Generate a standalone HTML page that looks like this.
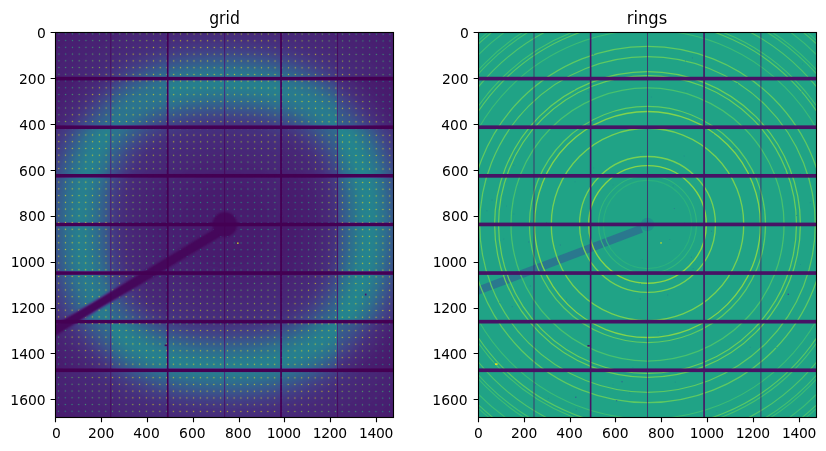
<!DOCTYPE html>
<html><head><meta charset="utf-8"><title>grid / rings</title>
<style>html,body{margin:0;padding:0;background:#fff}svg{display:block}text{font-family:"DejaVu Sans","Liberation Sans",sans-serif;fill:#000}</style>
</head><body>
<svg width="826" height="451" viewBox="0 0 826 451">
<defs>
<filter id="vir" filterUnits="userSpaceOnUse" x="0" y="0" width="826" height="451" color-interpolation-filters="sRGB">
<feComponentTransfer><feFuncR type="table" tableValues="0.2667 0.2728 0.2750 0.2784 0.2824 0.2824 0.2824 0.2824 0.2784 0.2745 0.2721 0.2659 0.2598 0.2537 0.2441 0.2397 0.2314 0.2230 0.2152 0.2091 0.1990 0.1929 0.1868 0.1806 0.1745 0.1684 0.1623 0.1561 0.1500 0.1439 0.1377 0.1316 0.1294 0.1233 0.1216 0.1189 0.1216 0.1248 0.1309 0.1444 0.1549 0.1733 0.1917 0.2186 0.2431 0.2716 0.3029 0.3319 0.3686 0.4015 0.4348 0.4723 0.5108 0.5510 0.5931 0.6336 0.6745 0.7118 0.7534 0.7980 0.8412 0.8819 0.9221 0.9571 0.9922"/><feFuncG type="table" tableValues="0.0039 0.0245 0.0456 0.0708 0.0931 0.1115 0.1338 0.1559 0.1725 0.1892 0.2113 0.2304 0.2490 0.2691 0.2848 0.3032 0.3216 0.3382 0.3544 0.3701 0.3863 0.4017 0.4186 0.4346 0.4471 0.4596 0.4755 0.4924 0.5078 0.5201 0.5358 0.5502 0.5686 0.5792 0.5936 0.6093 0.6255 0.6377 0.6539 0.6699 0.6824 0.6949 0.7108 0.7238 0.7363 0.7515 0.7637 0.7760 0.7882 0.8005 0.8088 0.8184 0.8294 0.8385 0.8485 0.8547 0.8627 0.8708 0.8745 0.8831 0.8863 0.8914 0.8975 0.8998 0.9059"/><feFuncB type="table" tableValues="0.3294 0.3522 0.3711 0.3936 0.4147 0.4331 0.4539 0.4699 0.4824 0.4946 0.5044 0.5152 0.5245 0.5306 0.5368 0.5412 0.5451 0.5490 0.5495 0.5529 0.5539 0.5569 0.5569 0.5569 0.5569 0.5569 0.5569 0.5569 0.5569 0.5569 0.5569 0.5529 0.5490 0.5468 0.5446 0.5385 0.5333 0.5270 0.5201 0.5103 0.5020 0.4936 0.4814 0.4684 0.4529 0.4368 0.4211 0.4049 0.3843 0.3637 0.3431 0.3213 0.2980 0.2735 0.2451 0.2169 0.1941 0.1674 0.1417 0.1186 0.1000 0.0953 0.1049 0.1206 0.1451"/></feComponentTransfer>
</filter>
<filter id="vird" filterUnits="userSpaceOnUse" x="0" y="0" width="826" height="451" color-interpolation-filters="sRGB">
<feComponentTransfer><feFuncR type="linear" slope="7.4"/><feFuncG type="linear" slope="7.4"/><feFuncB type="linear" slope="7.4"/></feComponentTransfer>
<feComponentTransfer><feFuncR type="table" tableValues="0.2667 0.2728 0.2750 0.2784 0.2824 0.2824 0.2824 0.2824 0.2784 0.2745 0.2721 0.2659 0.2598 0.2537 0.2441 0.2397 0.2314 0.2230 0.2152 0.2091 0.1990 0.1929 0.1868 0.1806 0.1745 0.1684 0.1623 0.1561 0.1500 0.1439 0.1377 0.1316 0.1294 0.1233 0.1216 0.1189 0.1216 0.1248 0.1309 0.1444 0.1549 0.1733 0.1917 0.2186 0.2431 0.2716 0.3029 0.3319 0.3686 0.4015 0.4348 0.4723 0.5108 0.5510 0.5931 0.6336 0.6745 0.7118 0.7534 0.7980 0.8412 0.8819 0.9221 0.9255 0.9255"/><feFuncG type="table" tableValues="0.0039 0.0245 0.0456 0.0708 0.0931 0.1115 0.1338 0.1559 0.1725 0.1892 0.2113 0.2304 0.2490 0.2691 0.2848 0.3032 0.3216 0.3382 0.3544 0.3701 0.3863 0.4017 0.4186 0.4346 0.4471 0.4596 0.4755 0.4924 0.5078 0.5201 0.5358 0.5502 0.5686 0.5792 0.5936 0.6093 0.6255 0.6377 0.6539 0.6699 0.6824 0.6949 0.7108 0.7238 0.7363 0.7515 0.7637 0.7760 0.7882 0.8005 0.8088 0.8184 0.8294 0.8385 0.8485 0.8547 0.8627 0.8708 0.8745 0.8831 0.8863 0.8914 0.8975 0.8980 0.8980"/><feFuncB type="table" tableValues="0.3294 0.3522 0.3711 0.3936 0.4147 0.4331 0.4539 0.4699 0.4824 0.4946 0.5044 0.5152 0.5245 0.5306 0.5368 0.5412 0.5451 0.5490 0.5495 0.5529 0.5539 0.5569 0.5569 0.5569 0.5569 0.5569 0.5569 0.5569 0.5569 0.5569 0.5569 0.5529 0.5490 0.5468 0.5446 0.5385 0.5333 0.5270 0.5201 0.5103 0.5020 0.4936 0.4814 0.4684 0.4529 0.4368 0.4211 0.4049 0.3843 0.3637 0.3431 0.3213 0.2980 0.2735 0.2451 0.2169 0.1941 0.1674 0.1417 0.1186 0.1000 0.0953 0.1049 0.1059 0.1059"/></feComponentTransfer>
</filter>
<filter id="b1" filterUnits="userSpaceOnUse" x="-600" y="-600" width="2675" height="2879" color-interpolation-filters="sRGB"><feGaussianBlur stdDeviation="66"/></filter>
<filter id="b2" filterUnits="userSpaceOnUse" x="-600" y="-600" width="2675" height="2879" color-interpolation-filters="sRGB"><feGaussianBlur stdDeviation="170"/></filter>
<filter id="b3" filterUnits="userSpaceOnUse" x="-600" y="-600" width="2675" height="2879" color-interpolation-filters="sRGB"><feGaussianBlur stdDeviation="5"/></filter>
<filter id="b4" filterUnits="userSpaceOnUse" x="-600" y="-600" width="2675" height="2879" color-interpolation-filters="sRGB"><feGaussianBlur stdDeviation="3"/></filter>
<g id="fieldL" transform="translate(55.0897 32.4447) scale(0.229303)">
<rect x="-5" y="-5" width="1485" height="1689" fill="#1e1e1e"/>
<path d="M1368.0 841.5L1367.3 894.5L1365.1 935.8L1361.6 973.4L1356.5 1008.7L1350.1 1042.2L1342.3 1074.1L1333.0 1104.7L1322.4 1134.0L1310.4 1162.1L1297.1 1188.9L1282.4 1214.6L1266.3 1239.0L1249.0 1262.3L1230.4 1284.4L1210.5 1305.2L1189.3 1324.8L1166.9 1343.2L1143.3 1360.3L1118.5 1376.1L1092.5 1390.6L1065.2 1403.7L1036.7 1415.6L1007.0 1426.0L976.0 1435.1L943.6 1442.9L909.6 1449.2L873.8 1454.1L835.6 1457.7L793.7 1459.8L740.0 1460.5L686.3 1459.8L644.4 1457.7L606.2 1454.1L570.4 1449.2L536.4 1442.9L504.0 1435.1L473.0 1426.0L443.3 1415.6L414.8 1403.7L387.5 1390.6L361.5 1376.1L336.7 1360.3L313.1 1343.2L290.7 1324.8L269.5 1305.2L249.6 1284.4L231.0 1262.3L213.7 1239.0L197.6 1214.6L182.9 1188.9L169.6 1162.1L157.6 1134.0L147.0 1104.7L137.7 1074.1L129.9 1042.2L123.5 1008.7L118.4 973.4L114.9 935.8L112.7 894.5L112.0 841.5L112.7 788.5L114.9 747.2L118.4 709.6L123.5 674.3L129.9 640.8L137.7 608.9L147.0 578.3L157.6 549.0L169.6 520.9L182.9 494.1L197.6 468.4L213.7 444.0L231.0 420.7L249.6 398.6L269.5 377.8L290.7 358.2L313.1 339.8L336.7 322.7L361.5 306.9L387.5 292.4L414.8 279.3L443.3 267.4L473.0 257.0L504.0 247.9L536.4 240.1L570.4 233.8L606.2 228.9L644.4 225.3L686.3 223.2L740.0 222.5L793.7 223.2L835.6 225.3L873.8 228.9L909.6 233.8L943.6 240.1L976.0 247.9L1007.0 257.0L1036.7 267.4L1065.2 279.3L1092.5 292.4L1118.5 306.9L1143.3 322.7L1166.9 339.8L1189.3 358.2L1210.5 377.8L1230.4 398.6L1249.0 420.7L1266.3 444.0L1282.4 468.4L1297.1 494.1L1310.4 520.9L1322.4 549.0L1333.0 578.3L1342.3 608.9L1350.1 640.8L1356.5 674.3L1361.6 709.6L1365.1 747.2L1367.3 788.5Z" fill="none" stroke="#fff" stroke-opacity="0.212" stroke-width="340" filter="url(#b2)"/>
<path d="M1368.0 841.5L1367.3 894.5L1365.1 935.8L1361.6 973.4L1356.5 1008.7L1350.1 1042.2L1342.3 1074.1L1333.0 1104.7L1322.4 1134.0L1310.4 1162.1L1297.1 1188.9L1282.4 1214.6L1266.3 1239.0L1249.0 1262.3L1230.4 1284.4L1210.5 1305.2L1189.3 1324.8L1166.9 1343.2L1143.3 1360.3L1118.5 1376.1L1092.5 1390.6L1065.2 1403.7L1036.7 1415.6L1007.0 1426.0L976.0 1435.1L943.6 1442.9L909.6 1449.2L873.8 1454.1L835.6 1457.7L793.7 1459.8L740.0 1460.5L686.3 1459.8L644.4 1457.7L606.2 1454.1L570.4 1449.2L536.4 1442.9L504.0 1435.1L473.0 1426.0L443.3 1415.6L414.8 1403.7L387.5 1390.6L361.5 1376.1L336.7 1360.3L313.1 1343.2L290.7 1324.8L269.5 1305.2L249.6 1284.4L231.0 1262.3L213.7 1239.0L197.6 1214.6L182.9 1188.9L169.6 1162.1L157.6 1134.0L147.0 1104.7L137.7 1074.1L129.9 1042.2L123.5 1008.7L118.4 973.4L114.9 935.8L112.7 894.5L112.0 841.5L112.7 788.5L114.9 747.2L118.4 709.6L123.5 674.3L129.9 640.8L137.7 608.9L147.0 578.3L157.6 549.0L169.6 520.9L182.9 494.1L197.6 468.4L213.7 444.0L231.0 420.7L249.6 398.6L269.5 377.8L290.7 358.2L313.1 339.8L336.7 322.7L361.5 306.9L387.5 292.4L414.8 279.3L443.3 267.4L473.0 257.0L504.0 247.9L536.4 240.1L570.4 233.8L606.2 228.9L644.4 225.3L686.3 223.2L740.0 222.5L793.7 223.2L835.6 225.3L873.8 228.9L909.6 233.8L943.6 240.1L976.0 247.9L1007.0 257.0L1036.7 267.4L1065.2 279.3L1092.5 292.4L1118.5 306.9L1143.3 322.7L1166.9 339.8L1189.3 358.2L1210.5 377.8L1230.4 398.6L1249.0 420.7L1266.3 444.0L1282.4 468.4L1297.1 494.1L1310.4 520.9L1322.4 549.0L1333.0 578.3L1342.3 608.9L1350.1 640.8L1356.5 674.3L1361.6 709.6L1365.1 747.2L1367.3 788.5Z" fill="none" stroke="#bfbfbf" stroke-width="160.0" filter="url(#b1)"/>
<rect x="-5" y="-5" width="250.0" height="206.3" fill="#000" fill-opacity="0.333"/>
<rect x="245.0" y="-5" width="247.0" height="206.3" fill="#000" fill-opacity="0.333"/>
<rect x="492.0" y="-5" width="248.0" height="206.3" fill="#000" fill-opacity="0.333"/>
<rect x="740.0" y="-5" width="246.70000000000005" height="206.3" fill="#000" fill-opacity="0.333"/>
<rect x="986.7" y="-5" width="247.79999999999995" height="206.3" fill="#000" fill-opacity="0.333"/>
<rect x="1234.5" y="-5" width="245.5" height="206.3" fill="#000" fill-opacity="0.333"/>
<rect x="-5" y="201.3" width="250.0" height="212.0" fill="#000" fill-opacity="0.480"/>
<rect x="245.0" y="201.3" width="247.0" height="212.0" fill="#000" fill-opacity="0.400"/>
<rect x="492.0" y="201.3" width="248.0" height="212.0" fill="#000" fill-opacity="0.333"/>
<rect x="740.0" y="201.3" width="246.70000000000005" height="212.0" fill="#000" fill-opacity="0.333"/>
<rect x="986.7" y="201.3" width="247.79999999999995" height="212.0" fill="#000" fill-opacity="0.360"/>
<rect x="1234.5" y="201.3" width="245.5" height="212.0" fill="#000" fill-opacity="0.533"/>
<rect x="-5" y="413.3" width="250.0" height="211.99999999999994" fill="#000" fill-opacity="0.333"/>
<rect x="245.0" y="413.3" width="247.0" height="211.99999999999994" fill="#000" fill-opacity="0.387"/>
<rect x="492.0" y="413.3" width="248.0" height="211.99999999999994" fill="#000" fill-opacity="0.333"/>
<rect x="740.0" y="413.3" width="246.70000000000005" height="211.99999999999994" fill="#000" fill-opacity="0.333"/>
<rect x="986.7" y="413.3" width="247.79999999999995" height="211.99999999999994" fill="#000" fill-opacity="0.467"/>
<rect x="1234.5" y="413.3" width="245.5" height="211.99999999999994" fill="#000" fill-opacity="0.300"/>
<rect x="-5" y="625.3" width="250.0" height="212.0" fill="#000" fill-opacity="0.333"/>
<rect x="245.0" y="625.3" width="247.0" height="212.0" fill="#000" fill-opacity="0.433"/>
<rect x="492.0" y="625.3" width="248.0" height="212.0" fill="#000" fill-opacity="0.333"/>
<rect x="740.0" y="625.3" width="246.70000000000005" height="212.0" fill="#000" fill-opacity="0.333"/>
<rect x="986.7" y="625.3" width="247.79999999999995" height="212.0" fill="#000" fill-opacity="0.513"/>
<rect x="1234.5" y="625.3" width="245.5" height="212.0" fill="#000" fill-opacity="0.300"/>
<rect x="-5" y="837.3" width="250.0" height="212.0" fill="#000" fill-opacity="0.333"/>
<rect x="245.0" y="837.3" width="247.0" height="212.0" fill="#000" fill-opacity="0.433"/>
<rect x="492.0" y="837.3" width="248.0" height="212.0" fill="#000" fill-opacity="0.333"/>
<rect x="740.0" y="837.3" width="246.70000000000005" height="212.0" fill="#000" fill-opacity="0.333"/>
<rect x="986.7" y="837.3" width="247.79999999999995" height="212.0" fill="#000" fill-opacity="0.500"/>
<rect x="1234.5" y="837.3" width="245.5" height="212.0" fill="#000" fill-opacity="0.300"/>
<rect x="-5" y="1049.3" width="250.0" height="212.0" fill="#000" fill-opacity="0.367"/>
<rect x="245.0" y="1049.3" width="247.0" height="212.0" fill="#000" fill-opacity="0.453"/>
<rect x="492.0" y="1049.3" width="248.0" height="212.0" fill="#000" fill-opacity="0.333"/>
<rect x="740.0" y="1049.3" width="246.70000000000005" height="212.0" fill="#000" fill-opacity="0.333"/>
<rect x="986.7" y="1049.3" width="247.79999999999995" height="212.0" fill="#000" fill-opacity="0.433"/>
<rect x="1234.5" y="1049.3" width="245.5" height="212.0" fill="#000" fill-opacity="0.300"/>
<rect x="-5" y="1261.3" width="250.0" height="212.0" fill="#000" fill-opacity="0.467"/>
<rect x="245.0" y="1261.3" width="247.0" height="212.0" fill="#000" fill-opacity="0.333"/>
<rect x="492.0" y="1261.3" width="248.0" height="212.0" fill="#000" fill-opacity="0.333"/>
<rect x="740.0" y="1261.3" width="246.70000000000005" height="212.0" fill="#000" fill-opacity="0.333"/>
<rect x="986.7" y="1261.3" width="247.79999999999995" height="212.0" fill="#000" fill-opacity="0.333"/>
<rect x="1234.5" y="1261.3" width="245.5" height="212.0" fill="#000" fill-opacity="0.533"/>
<rect x="-5" y="1473.3" width="250.0" height="210.70000000000005" fill="#000" fill-opacity="0.333"/>
<rect x="245.0" y="1473.3" width="247.0" height="210.70000000000005" fill="#000" fill-opacity="0.333"/>
<rect x="492.0" y="1473.3" width="248.0" height="210.70000000000005" fill="#000" fill-opacity="0.333"/>
<rect x="740.0" y="1473.3" width="246.70000000000005" height="210.70000000000005" fill="#000" fill-opacity="0.333"/>
<rect x="986.7" y="1473.3" width="247.79999999999995" height="210.70000000000005" fill="#000" fill-opacity="0.333"/>
<rect x="1234.5" y="1473.3" width="245.5" height="210.70000000000005" fill="#000" fill-opacity="0.333"/>
<g filter="url(#b3)"><line x1="740.0" y1="854.5" x2="-80" y2="1345.9" stroke="#050505" stroke-width="42.0"/>
<circle cx="740.0" cy="837.5" r="54.0" fill="#050505"/></g>
<rect x="-5" y="193.3" width="1485" height="16.0" fill="#000"/>
<rect x="-5" y="405.3" width="1485" height="16.0" fill="#000"/>
<rect x="-5" y="617.3" width="1485" height="16.0" fill="#000"/>
<rect x="-5" y="829.3" width="1485" height="16.0" fill="#000"/>
<rect x="-5" y="1041.3" width="1485" height="16.0" fill="#000"/>
<rect x="-5" y="1253.3" width="1485" height="16.0" fill="#000"/>
<rect x="-5" y="1465.3" width="1485" height="16.0" fill="#000"/>
<rect x="487.2" y="-5" width="8.0" height="1689" fill="#000"/>
<rect x="981.4" y="-5" width="8.0" height="1689" fill="#000"/>
<rect x="241.0" y="-5" width="4" height="1689" fill="#000" fill-opacity="0.8"/>
<rect x="737.5" y="-5" width="4" height="1689" fill="#000" fill-opacity="0.8"/>
<rect x="1230.0" y="-5" width="4" height="1689" fill="#000" fill-opacity="0.8"/>
</g>
<pattern id="dp" patternUnits="userSpaceOnUse" x="55.573" y="30.481" width="6.754" height="6.739" patternTransform="rotate(0.066 58.95 33.85)">
<rect x="2.777" y="2.769" width="1.2" height="1.2" fill="#fff" fill-opacity="0.72"/>
</pattern>
<mask id="dm" maskUnits="userSpaceOnUse" x="0" y="0" width="826" height="451"><rect x="50" y="28" width="350" height="395" fill="url(#dp)"/>
<g transform="translate(55.0897 32.4447) scale(0.229303)"><line x1="740.0" y1="854.5" x2="-80" y2="1345.9" stroke="#000" stroke-width="38.0"/><circle cx="740.0" cy="837.5" r="52.0" fill="#000"/></g>
</mask>
<clipPath id="c0"><rect x="55.0" y="32.0" width="338.5" height="385.5"/></clipPath>
<clipPath id="c1"><rect x="478.0" y="32.0" width="338.5" height="385.5"/></clipPath>
</defs>
<rect width="826" height="451" fill="#fff"/>
<g clip-path="url(#c0)">
<use href="#fieldL" filter="url(#vir)"/>
<g mask="url(#dm)"><use href="#fieldL" filter="url(#vird)"/></g>
<g transform="translate(55.0897 32.4447) scale(0.229303)">
<rect x="794" y="916" width="6" height="6" fill="#dfe318"/>
<rect x="1351" y="1139" width="7" height="8" fill="#471063"/>
<rect x="478" y="1361" width="10" height="7" fill="#46085c"/>
</g></g>
<g clip-path="url(#c1)">
<g transform="translate(477.8147 32.4447) scale(0.229303)">
<rect x="-5" y="-5" width="1485" height="1689" fill="#20a386"/>
<g filter="url(#b4)"><line x1="714.0" y1="856.0" x2="-80" y2="1156.4" stroke="#2a788e" stroke-width="35"/>
<circle cx="740.0" cy="837.5" r="29" fill="#21918c"/><circle cx="740.0" cy="837.5" r="17" fill="#23898e"/></g>
<circle cx="740.0" cy="837.5" r="192.3" fill="none" stroke="#2ab07e" stroke-width="4.8"/>
<circle cx="740.0" cy="837.5" r="213.7" fill="none" stroke="#32b67a" stroke-width="4.8"/>
<circle cx="740.0" cy="837.5" r="256.5" fill="none" stroke="#86d549" stroke-width="6.1"/>
<circle cx="740.0" cy="837.5" r="296.3" fill="none" stroke="#75d054" stroke-width="5.9"/>
<circle cx="740.0" cy="837.5" r="419.7" fill="none" stroke="#75d054" stroke-width="5.9"/>
<circle cx="740.0" cy="837.5" r="492.7" fill="none" stroke="#81d34d" stroke-width="5.9"/>
<circle cx="740.0" cy="837.5" r="514.8" fill="none" stroke="#5ec962" stroke-width="5.5"/>
<circle cx="740.0" cy="837.5" r="595.4" fill="none" stroke="#48c16e" stroke-width="5.5"/>
<circle cx="740.0" cy="837.5" r="649.7" fill="none" stroke="#69cd5b" stroke-width="5.5"/>
<circle cx="740.0" cy="837.5" r="666.8" fill="none" stroke="#69cd5b" stroke-width="5.5"/>
<circle cx="740.0" cy="837.5" r="731.7" fill="none" stroke="#5ec962" stroke-width="5.5"/>
<circle cx="740.0" cy="837.5" r="777.0" fill="none" stroke="#5ec962" stroke-width="5.5"/>
<circle cx="740.0" cy="837.5" r="847.6" fill="none" stroke="#3bbb75" stroke-width="5.0"/>
<circle cx="740.0" cy="837.5" r="887.6" fill="none" stroke="#58c765" stroke-width="5.2"/>
<circle cx="740.0" cy="837.5" r="900.5" fill="none" stroke="#44bf70" stroke-width="5.0"/>
<circle cx="740.0" cy="837.5" r="950.8" fill="none" stroke="#4ec36b" stroke-width="5.2"/>
<circle cx="740.0" cy="837.5" r="987.1" fill="none" stroke="#44bf70" stroke-width="5.0"/>
<circle cx="740.0" cy="837.5" r="998.9" fill="none" stroke="#3bbb75" stroke-width="4.8"/>
<circle cx="740.0" cy="837.5" r="1045.1" fill="none" stroke="#3bbb75" stroke-width="4.8"/>
<circle cx="740.0" cy="837.5" r="1078.6" fill="none" stroke="#48c16e" stroke-width="4.8"/>
<circle cx="740.0" cy="837.5" r="1089.5" fill="none" stroke="#37b878" stroke-width="4.8"/>
<circle cx="740.0" cy="837.5" r="1132.6" fill="none" stroke="#3bbb75" stroke-width="4.8"/>
<circle cx="740.0" cy="837.5" r="1164.0" fill="none" stroke="#3fbc73" stroke-width="4.8"/>
<rect x="479" y="257" width="4" height="4" fill="#287d8e"/>
<rect x="111" y="899" width="4" height="4" fill="#21918c"/>
<rect x="859" y="1523" width="4" height="4" fill="#228b8d"/>
<rect x="60" y="729" width="4" height="4" fill="#287d8e"/>
<rect x="358" y="925" width="4" height="4" fill="#287d8e"/>
<rect x="1216" y="212" width="4" height="4" fill="#228b8d"/>
<rect x="929" y="978" width="4" height="4" fill="#287d8e"/>
<rect x="850" y="667" width="4" height="4" fill="#228b8d"/>
<rect x="73" y="1438" width="4" height="4" fill="#21918c"/>
<rect x="619" y="907" width="4" height="4" fill="#21918c"/>
<rect x="826" y="1143" width="4" height="4" fill="#287d8e"/>
<rect x="857" y="1071" width="4" height="4" fill="#21918c"/>
<rect x="148" y="1194" width="4" height="4" fill="#287d8e"/>
<rect x="912" y="834" width="4" height="4" fill="#1f958b"/>
<rect x="1144" y="782" width="4" height="4" fill="#1f958b"/>
<rect x="535" y="420" width="4" height="4" fill="#228b8d"/>
<rect x="1029" y="412" width="4" height="4" fill="#21918c"/>
<rect x="774" y="1466" width="4" height="4" fill="#1f958b"/>
<rect x="427" y="1641" width="4" height="4" fill="#287d8e"/>
<rect x="755" y="280" width="4" height="4" fill="#21918c"/>
<rect x="228" y="821" width="4" height="4" fill="#287d8e"/>
<rect x="1414" y="135" width="4" height="4" fill="#21918c"/>
<rect x="503" y="589" width="4" height="4" fill="#1f958b"/>
<rect x="855" y="766" width="4" height="4" fill="#287d8e"/>
<rect x="1389" y="796" width="4" height="4" fill="#287d8e"/>
<rect x="94" y="1176" width="4" height="4" fill="#1f958b"/>
<rect x="422" y="649" width="4" height="4" fill="#21918c"/>
<rect x="38" y="776" width="4" height="4" fill="#228b8d"/>
<rect x="900" y="829" width="4" height="4" fill="#228b8d"/>
<rect x="1130" y="221" width="4" height="4" fill="#228b8d"/>
<rect x="588" y="1535" width="4" height="4" fill="#1f958b"/>
<rect x="123" y="755" width="4" height="4" fill="#21918c"/>
<rect x="1299" y="1372" width="4" height="4" fill="#21918c"/>
<rect x="1040" y="1651" width="4" height="4" fill="#1f958b"/>
<rect x="1408" y="257" width="4" height="4" fill="#228b8d"/>
<rect x="227" y="1104" width="4" height="4" fill="#287d8e"/>
<rect x="715" y="988" width="4" height="4" fill="#21918c"/>
<rect x="418" y="248" width="4" height="4" fill="#21918c"/>
<rect x="898" y="537" width="4" height="4" fill="#228b8d"/>
<rect x="1017" y="865" width="4" height="4" fill="#287d8e"/>
<rect x="674" y="1459" width="4" height="4" fill="#1f958b"/>
<rect x="588" y="663" width="4" height="4" fill="#1f958b"/>
<rect x="934" y="109" width="4" height="4" fill="#287d8e"/>
<rect x="1448" y="740" width="4" height="4" fill="#287d8e"/>
<rect x="503" y="93" width="4" height="4" fill="#287d8e"/>
<rect x="835" y="901" width="4" height="4" fill="#21918c"/>
<rect x="904" y="122" width="4" height="4" fill="#228b8d"/>
<rect x="905" y="253" width="4" height="4" fill="#21918c"/>
<rect x="1405" y="1010" width="4" height="4" fill="#1f958b"/>
<rect x="185" y="1422" width="4" height="4" fill="#1f958b"/>
<rect x="709" y="525" width="4" height="4" fill="#228b8d"/>
<rect x="155" y="577" width="4" height="4" fill="#21918c"/>
<rect x="706" y="1160" width="4" height="4" fill="#287d8e"/>
<rect x="306" y="1594" width="4" height="4" fill="#21918c"/>
<rect x="220" y="912" width="4" height="4" fill="#287d8e"/>
<rect x="1116" y="503" width="4" height="4" fill="#287d8e"/>
<rect x="1025" y="441" width="4" height="4" fill="#21918c"/>
<rect x="1336" y="599" width="4" height="4" fill="#228b8d"/>
<rect x="785" y="1305" width="4" height="4" fill="#21918c"/>
<rect x="937" y="1028" width="4" height="4" fill="#228b8d"/>
<rect x="1186" y="1371" width="4" height="4" fill="#228b8d"/>
<rect x="298" y="827" width="4" height="4" fill="#287d8e"/>
<rect x="1455" y="1324" width="4" height="4" fill="#1f958b"/>
<rect x="385" y="1161" width="4" height="4" fill="#21918c"/>
<rect x="660" y="1569" width="4" height="4" fill="#21918c"/>
<rect x="1404" y="614" width="4" height="4" fill="#228b8d"/>
<rect x="155" y="790" width="4" height="4" fill="#21918c"/>
<rect x="304" y="1047" width="4" height="4" fill="#287d8e"/>
<rect x="707" y="1095" width="4" height="4" fill="#287d8e"/>
<rect x="1228" y="205" width="4" height="4" fill="#1f958b"/>
<rect x="-5" y="193.3" width="1485" height="16.0" fill="#471365"/>
<rect x="-5" y="405.3" width="1485" height="16.0" fill="#471365"/>
<rect x="-5" y="617.3" width="1485" height="16.0" fill="#471365"/>
<rect x="-5" y="829.3" width="1485" height="16.0" fill="#471365"/>
<rect x="-5" y="1041.3" width="1485" height="16.0" fill="#471365"/>
<rect x="-5" y="1253.3" width="1485" height="16.0" fill="#471365"/>
<rect x="-5" y="1465.3" width="1485" height="16.0" fill="#471365"/>
<rect x="488.5" y="-5" width="7.0" height="1689" fill="#471365"/>
<rect x="983.2" y="-5" width="7.0" height="1689" fill="#471365"/>
<rect x="242.8" y="-5" width="4.4" height="1689" fill="#471365" fill-opacity="0.7"/>
<rect x="737.8" y="-5" width="4.4" height="1689" fill="#471365" fill-opacity="0.7"/>
<rect x="1232.3" y="-5" width="4.4" height="1689" fill="#471365" fill-opacity="0.7"/>
<rect x="424" y="1588" width="6" height="6" fill="#2f6c8e"/>
<rect x="626" y="1520" width="6" height="6" fill="#2c738e"/>
<rect x="245" y="1533" width="6" height="6" fill="#355f8d"/>
<rect x="602" y="1603" width="6" height="6" fill="#287d8e"/>
<rect x="1351" y="1139" width="6" height="6" fill="#3b528b"/>
<rect x="478" y="1363" width="10" height="7" fill="#471365"/>
<rect x="796" y="915" width="6" height="6" fill="#d2e21b"/>
<rect x="75" y="1443" width="11" height="7" fill="#ece51b"/>
</g></g>
<path d="M55.5 417.5v4.86M101.5 417.5v4.86M147.5 417.5v4.86M193.5 417.5v4.86M239.5 417.5v4.86M284.5 417.5v4.86M330.5 417.5v4.86M376.5 417.5v4.86M55.5 32.5h-4.86M55.5 78.5h-4.86M55.5 124.5h-4.86M55.5 170.5h-4.86M55.5 216.5h-4.86M55.5 262.5h-4.86M55.5 308.5h-4.86M55.5 353.5h-4.86M55.5 399.5h-4.86" stroke="#000" stroke-width="1.11" fill="none"/>
<rect x="55.5" y="32.5" width="338.0" height="385.0" fill="none" stroke="#000" stroke-width="1.11" stroke-linejoin="miter"/>
<text x="56.35" y="437.77" font-size="13.889" text-anchor="middle">0</text>
<text x="101.21" y="437.77" font-size="13.889" text-anchor="middle">200</text>
<text x="146.50" y="437.77" font-size="13.889" text-anchor="middle">400</text>
<text x="192.36" y="437.77" font-size="13.889" text-anchor="middle">600</text>
<text x="238.30" y="437.77" font-size="13.889" text-anchor="middle">800</text>
<text x="283.77" y="437.77" font-size="13.889" text-anchor="middle" letter-spacing="-0.33">1000</text>
<text x="329.74" y="437.77" font-size="13.889" text-anchor="middle" letter-spacing="-0.33">1200</text>
<text x="375.92" y="437.77" font-size="13.889" text-anchor="middle" letter-spacing="-0.33">1400</text>
<text x="45.88" y="37.55" font-size="13.889" text-anchor="end">0</text>
<text x="45.49" y="83.55" font-size="13.889" text-anchor="end">200</text>
<text x="45.78" y="129.55" font-size="13.889" text-anchor="end">400</text>
<text x="45.56" y="175.55" font-size="13.889" text-anchor="end">600</text>
<text x="45.58" y="220.55" font-size="13.889" text-anchor="end">800</text>
<text x="44.84" y="266.55" font-size="13.889" text-anchor="end" letter-spacing="-0.33">1000</text>
<text x="44.75" y="312.55" font-size="13.889" text-anchor="end" letter-spacing="-0.33">1200</text>
<text x="44.79" y="358.55" font-size="13.889" text-anchor="end" letter-spacing="-0.33">1400</text>
<text x="45.68" y="404.55" font-size="13.889" text-anchor="end">1600</text>
<text transform="translate(224.5 23.5) scale(0.94 1.1)" font-size="16.667" text-anchor="middle">grid</text>
<path d="M478.5 417.5v4.86M524.5 417.5v4.86M570.5 417.5v4.86M615.5 417.5v4.86M661.5 417.5v4.86M707.5 417.5v4.86M753.5 417.5v4.86M799.5 417.5v4.86M478.5 32.5h-4.86M478.5 78.5h-4.86M478.5 124.5h-4.86M478.5 170.5h-4.86M478.5 216.5h-4.86M478.5 262.5h-4.86M478.5 308.5h-4.86M478.5 353.5h-4.86M478.5 399.5h-4.86" stroke="#000" stroke-width="1.11" fill="none"/>
<rect x="478.5" y="32.5" width="338.0" height="385.0" fill="none" stroke="#000" stroke-width="1.11" stroke-linejoin="miter"/>
<text x="478.35" y="437.77" font-size="13.889" text-anchor="middle">0</text>
<text x="524.21" y="437.77" font-size="13.889" text-anchor="middle">200</text>
<text x="569.50" y="437.77" font-size="13.889" text-anchor="middle">400</text>
<text x="615.36" y="437.77" font-size="13.889" text-anchor="middle">600</text>
<text x="661.30" y="437.77" font-size="13.889" text-anchor="middle">800</text>
<text x="706.77" y="437.77" font-size="13.889" text-anchor="middle" letter-spacing="-0.33">1000</text>
<text x="752.74" y="437.77" font-size="13.889" text-anchor="middle" letter-spacing="-0.33">1200</text>
<text x="798.92" y="437.77" font-size="13.889" text-anchor="middle" letter-spacing="-0.33">1400</text>
<text x="468.88" y="37.55" font-size="13.889" text-anchor="end">0</text>
<text x="468.49" y="83.55" font-size="13.889" text-anchor="end">200</text>
<text x="467.78" y="129.55" font-size="13.889" text-anchor="end">400</text>
<text x="468.56" y="175.55" font-size="13.889" text-anchor="end">600</text>
<text x="468.58" y="220.55" font-size="13.889" text-anchor="end">800</text>
<text x="466.84" y="266.55" font-size="13.889" text-anchor="end" letter-spacing="-0.33">1000</text>
<text x="466.75" y="312.55" font-size="13.889" text-anchor="end" letter-spacing="-0.33">1200</text>
<text x="466.79" y="358.55" font-size="13.889" text-anchor="end" letter-spacing="-0.33">1400</text>
<text x="467.68" y="404.55" font-size="13.889" text-anchor="end">1600</text>
<text transform="translate(647.0 23.5) scale(0.98 1.08)" font-size="16.667" text-anchor="middle">rings</text>
</svg></body></html>
